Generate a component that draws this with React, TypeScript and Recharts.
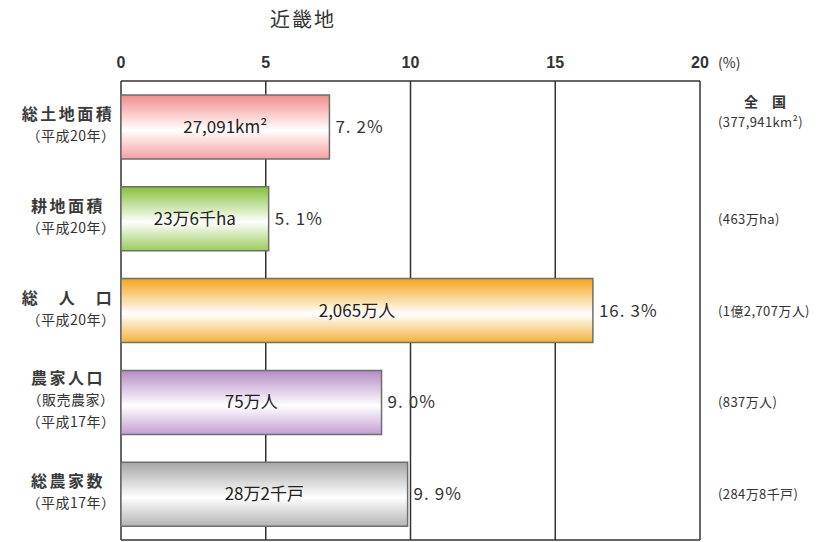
import { BarChart, Bar, XAxis, YAxis, CartesianGrid, Cell, LabelList } from 'recharts'

const categories = ['総土地面積', '耕地面積', '総　人　口', '農家人口', '総農家数']
const subLabels = [['（平成20年）'], ['（平成20年）'], ['（平成20年）'], ['（販売農家）', '（平成17年）'], ['（平成17年）']]
const shares = [7.2, 5.1, 16.3, 9.0, 9.9]
const regionValues = ['27,091km²', '23万6千ha', '2,065万人', '75万人', '28万2千戸']
const nationalValues = ['(377,941km²)', '(463万ha)', '(1億2,707万人)', '(837万人)', '(284万8千戸)']
const xTicks = [0, 5, 10, 15, 20]
const barColors = [
  ['#f28c8c', '#f5a0a0'],
  ['#86c03c', '#9ccb5c'],
  ['#f3a51c', '#f2b338'],
  ['#b48ac6', '#c3a0d3'],
  ['#a6a6a6', '#b4b4b4'],
]

const data = categories.map((name, i) => ({
  name,
  share: shares[i],
  region: regionValues[i],
  national: nationalValues[i],
}))

const FONT = '"Noto Sans CJK JP", "DejaVu Sans", sans-serif'

const XTick = (props: any) => {
  const { x, y, payload } = props
  return (
    <g>
      <text x={x} y={y} dy={3} textAnchor="middle" fontSize={16} fill="#333" fontFamily="Arial, Liberation Sans, sans-serif" fontWeight="bold">
        {payload.value}
      </text>
      {payload.value === 20 && (
        <text x={x + 18} y={y} dy={3} fontSize={14} fill="#333" fontFamily={FONT}>
          (%)
        </text>
      )}
    </g>
  )
}

const LeftTick = (props: any) => {
  const { y, payload, index } = props
  const subs: string[] = subLabels[index] || []
  const cx = 60
  const top = y - (subs.length === 2 ? 23 : 12)
  return (
    <g fontFamily={FONT} textAnchor="middle">
      <text x={cx} y={top} dy={5} fontSize={16} fontWeight="bold" fill="#3a3a3a" letterSpacing={2.5}>
        {payload.value}
      </text>
      {subs.map((s, k) => (
        <text key={k} x={cx + 3} y={top + 22 + k * 22} dy={4} fontSize={14} fill="#333" letterSpacing={0.5}>
          {s}
        </text>
      ))}
    </g>
  )
}

const RightTick = (props: any) => {
  const { x, y, index } = props
  return (
    <g fontFamily={FONT} fill="#333">
      {index === 0 && (
        <text x={x + 57} y={y - 20} textAnchor="middle" fontSize={14} fontWeight="bold">
          全　国
        </text>
      )}
      <text x={x + 10} y={y + (index === 0 ? 0 : 5)} fontSize={13} letterSpacing={0.4}>
        {nationalValues[index]}
      </text>
    </g>
  )
}

const PctLabel = (props: any) => {
  const { x, y, width, height, value } = props
  const [whole, dec] = Number(value).toFixed(1).split('.')
  return (
    <text x={x + width + 6} y={y + height / 2} dy={6} fontSize={17} fill="#333" fontFamily={FONT} letterSpacing={1}>
      {`${whole}.`}
      <tspan dx={5}>{`${dec}%`}</tspan>
    </text>
  )
}

const InnerLabel = (props: any) => {
  const { x, y, width, height, value } = props
  return (
    <text x={x + width / 2} y={y + height / 2} dy={6} textAnchor="middle" fontSize={17} fill="#222" fontFamily={FONT}>
      {value}
    </text>
  )
}

export default function App() {
  return (
    <div style={{ position: 'relative', width: 812, height: 534 }}>
      <div
        style={{
          position: 'absolute',
          left: 262,
          top: -4,
          whiteSpace: 'nowrap',
          fontFamily: FONT,
          fontSize: 20,
          letterSpacing: 2,
          color: '#333',
        }}
      >
        近畿地
      </div>
      <BarChart
        width={812}
        height={534}
        data={data}
        layout="vertical"
        margin={{ top: 0, right: 0, bottom: 2, left: 0 }}
        barCategoryGap={28}
      >
        <defs>
          {barColors.map(([c1, c2], i) => (
            <linearGradient key={i} id={`g${i}`} x1="0" y1="0" x2="0" y2="1">
              <stop offset="0%" stopColor={c1} />
              <stop offset="55%" stopColor="#ffffff" />
              <stop offset="100%" stopColor={c2} />
            </linearGradient>
          ))}
        </defs>
        <CartesianGrid
          stroke="#333"
          strokeWidth={1.5}
          verticalCoordinatesGenerator={({ offset }: any) =>
            xTicks.map((t) => offset.left + (t / 20) * offset.width)
          }
          horizontalCoordinatesGenerator={({ offset }: any) => [offset.top, offset.top + offset.height]}
        />
        <XAxis
          type="number"
          orientation="top"
          domain={[0, 20]}
          ticks={xTicks}
          axisLine={false}
          tickLine={false}
          height={73}
          tick={<XTick />}
          tickMargin={10}
        />
        <YAxis
          yAxisId="left"
          type="category"
          dataKey="name"
          width={113}
          axisLine={false}
          tickLine={false}
          tick={<LeftTick />}
        />
        <YAxis
          yAxisId="right"
          orientation="right"
          type="category"
          dataKey="name"
          width={120}
          axisLine={false}
          tickLine={false}
          tick={<RightTick />}
        />
        <Bar dataKey="share" yAxisId="left" barSize={64} stroke="#6e6e6e" strokeWidth={1.5} isAnimationActive={false}>
          {data.map((_, i) => (
            <Cell key={i} fill={`url(#g${i})`} />
          ))}
          <LabelList dataKey="region" content={<InnerLabel />} />
          <LabelList dataKey="share" content={<PctLabel />} />
        </Bar>
      </BarChart>
    </div>
  )
}
